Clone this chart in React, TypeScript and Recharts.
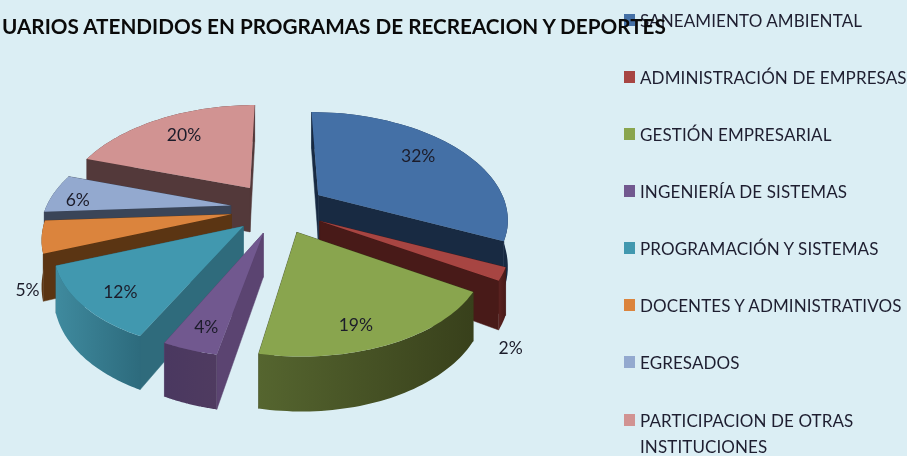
import React from 'react';
import { PieChart, Pie, Legend } from 'recharts';

const categories = [
  'SANEAMIENTO AMBIENTAL',
  'ADMINISTRACIÓN DE EMPRESAS',
  'GESTIÓN EMPRESARIAL',
  'INGENIERÍA DE SISTEMAS',
  'PROGRAMACIÓN Y SISTEMAS',
  'DOCENTES Y ADMINISTRATIVOS',
  'EGRESADOS',
  'PARTICIPACION DE OTRAS INSTITUCIONES',
];
const values = [32, 2, 19, 4, 12, 5, 6, 20];

const topColors = ['#4470A6', '#A74542', '#89A54E', '#71588F', '#4198AF', '#DB843D', '#93A9CF', '#D19392'];
const sideColors = ['#182A42', '#481A18', '#38401B', '#5B4471', '#2F6B7C', '#5B3513', '#3A4558', '#53393A'];
const rimLight = ['#22395A', '#5A2220', '#55652F', '#4A3860', '#3F8A9E', '#5B3513', '#3A4558', '#53393A'];
const rimDark = ['#182A42', '#481A18', '#38401B', '#4F3B60', '#2D6B7D', '#5B3513', '#3A4558', '#53393A'];

// painter's order, back slices first
const drawOrder = [7, 6, 5, 0, 1, 4, 3, 2];
// label offset from each slice's tip
const labelOffsets = [[100, -39], [191, 126], [59, 92], [-57, 93], [-123, 65], [-204, 75], [-153, -6], [-66, -53]];

const rows = categories.map((name, i) => ({ name, value: values[i], slot: i }));

const WIDTH = 907;
const HEIGHT = 456;
const RADIUS = 184;
const SQUASH = 0.54;
const PERSPECTIVE = 0.2;
const EXPLODE = 47.6;
const DEPTH = 44;
const FONT = 'Lato, "Open Sans", sans-serif';

const rad = (deg: number) => (deg * Math.PI) / 180;
const persp = (v: number) => 1 / (1 - PERSPECTIVE * v);

const tip = (cx: number, cy: number, mid: number) => ({
  x: cx + EXPLODE * Math.cos(rad(mid)),
  y: cy - EXPLODE * SQUASH * Math.sin(rad(mid)),
});

// the explode offset shrinks or grows with distance too, so rims lean toward the centre at the back
const rimPoint = (t: { x: number; y: number }, cx: number, r: number, deg: number) => {
  const u = Math.cos(rad(deg));
  const v = -Math.sin(rad(deg));
  const f = persp(v);
  return { x: cx + (t.x - cx) * f + r * u * f, y: t.y + r * SQUASH * v * f, drop: DEPTH * f };
};

const toPath = (pts: { x: number; y: number }[]) =>
  pts.map((p, i) => `${i ? 'L' : 'M'}${p.x.toFixed(1)},${p.y.toFixed(1)}`).join(' ') + ' Z';

const sliceShape = (slot: number) => (props: any) => {
  const { cx, cy, outerRadius, startAngle, endAngle, midAngle } = props;
  const own = props.slot ?? props.payload?.slot;
  if (own !== slot) return <g />;

  const t = tip(cx, cy, midAngle);
  const steps = 48;
  const rim = [];
  for (let s = 0; s <= steps; s++) {
    rim.push(rimPoint(t, cx, outerRadius, startAngle + ((endAngle - startAngle) * s) / steps));
  }
  const first = rim[0];
  const last = rim[rim.length - 1];
  const lower = (p: any) => ({ x: p.x, y: p.y + p.drop });
  const tipLow = { x: t.x, y: t.y + DEPTH };

  const walls = [
    { y: (t.y + first.y) / 2, d: toPath([t, first, lower(first), tipLow]), fill: sideColors[slot] },
    { y: (t.y + last.y) / 2, d: toPath([t, last, lower(last), tipLow]), fill: sideColors[slot] },
    {
      y: rim[24].y,
      d: toPath([...rim, ...rim.slice().reverse().map(lower)]),
      fill: `url(#rim-${slot})`,
    },
  ].sort((a, b) => a.y - b.y);

  return (
    <g>
      <defs>
        <linearGradient id={`rim-${slot}`} x1="0" y1="0" x2="1" y2="0">
          <stop offset="0%" stopColor={rimLight[slot]} />
          <stop offset="100%" stopColor={rimDark[slot]} />
        </linearGradient>
      </defs>
      {walls.map((w, i) => (
        <path key={i} d={w.d} fill={w.fill} stroke={w.fill === sideColors[slot] ? w.fill : 'none'} strokeWidth={0.5} />
      ))}
      <path d={toPath([t, ...rim])} fill={topColors[slot]} />
    </g>
  );
};

const renderLabel = (props: any) => {
  const i = props.index;
  const t = tip(props.cx, props.cy, props.midAngle);
  return (
    <text
      x={t.x + labelOffsets[i][0]}
      y={t.y + labelOffsets[i][1]}
      textAnchor="middle"
      dominantBaseline="central"
      fontFamily={FONT}
      fontSize={17.5}
      fill="#1C1C2A"
    >
      {values[i]}%
    </text>
  );
};

const renderLegend = () => (
  <div style={{ fontFamily: FONT, fontSize: 17, color: '#1E1E30', lineHeight: '26px' }}>
    {categories.map((name, i) => (
      <div key={name} style={{ position: 'absolute', left: 0, top: i === 7 ? 408 : 8 + i * 57, width: 250, paddingLeft: 16, letterSpacing: 0.1, whiteSpace: i === 7 ? 'normal' : 'nowrap' }}>
        <span style={{ position: 'absolute', left: 0, top: 6, width: 11, height: 12, background: topColors[i] }} />
        {name}
      </div>
    ))}
  </div>
);

const App = () => (
  <div style={{ position: 'fixed', left: 0, top: 0, width: WIDTH, height: HEIGHT, background: '#DBEEF4', overflow: 'hidden', filter: 'blur(0.35px)' }}>
    <PieChart width={WIDTH} height={HEIGHT} margin={{ top: 0, right: 0, bottom: 0, left: 0 }}>
      {drawOrder.map((slot) => (
        <Pie
          key={slot}
          data={rows}
          dataKey="value"
          nameKey="name"
          cx={278}
          cy={208.7}
          outerRadius={RADIUS}
          startAngle={90}
          endAngle={-270}
          legendType="none"
          stroke="none"
          shape={sliceShape(slot)}
          isAnimationActive={false}
        />
      ))}
      <Pie
        data={rows}
        dataKey="value"
        nameKey="name"
        cx={278}
        cy={208.7}
        outerRadius={RADIUS}
        startAngle={90}
        endAngle={-270}
        legendType="none"
        stroke="none"
        shape={() => <g />}
        label={renderLabel}
        labelLine={false}
        isAnimationActive={false}
      />
      <Legend
        content={renderLegend}
        layout="vertical"
        align="right"
        verticalAlign="top"
        wrapperStyle={{ left: 624, top: 0, width: 283, height: 456 }}
      />
    </PieChart>
    <div
      style={{
        position: 'absolute',
        left: 2,
        top: 14,
        fontFamily: FONT,
        fontSize: 20.7,
        fontWeight: 700,
        color: '#0A0A0A',
        whiteSpace: 'nowrap',
      }}
    >
      UARIOS ATENDIDOS EN PROGRAMAS DE RECREACION Y DEPORTES
    </div>
  </div>
);

export default App;
